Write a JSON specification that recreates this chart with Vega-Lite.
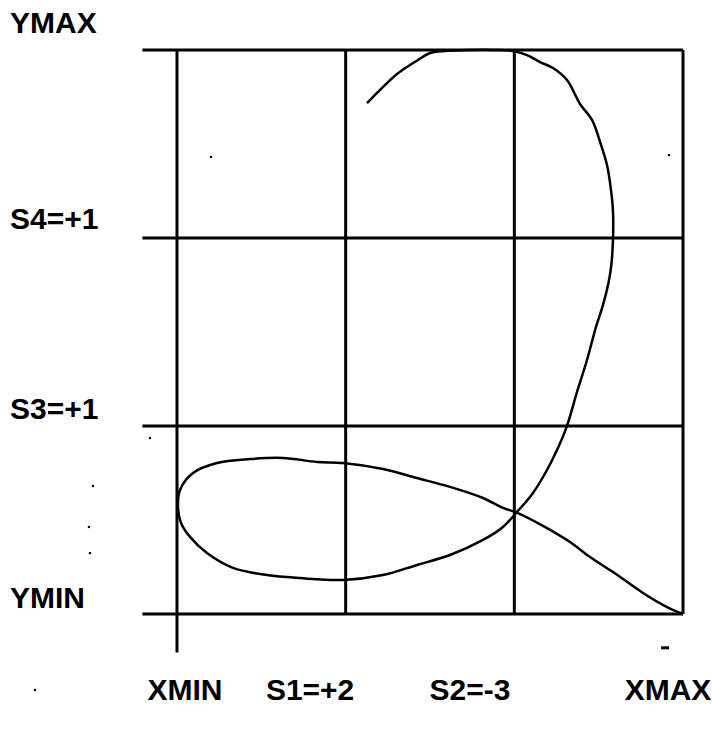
{
  "$schema": "https://vega.github.io/schema/vega-lite/v6.json",
  "width": 712,
  "height": 732,
  "autosize": {"type": "fit", "contains": "padding"},
  "padding": 0,
  "background": "white",
  "config": {"view": {"stroke": null}},
  "datasets": {
    "grid": [
      {"x": 0, "y": -0.205, "x2": 0, "y2": 3},
      {"x": 1, "y": 0, "x2": 1, "y2": 3},
      {"x": 2, "y": 0, "x2": 2, "y2": 3},
      {"x": 3, "y": 0, "x2": 3, "y2": 3},
      {"x": -0.205, "y": 0, "x2": 3, "y2": 0},
      {"x": -0.205, "y": 1, "x2": 3, "y2": 1},
      {"x": -0.205, "y": 2, "x2": 3, "y2": 2},
      {"x": -0.205, "y": 3, "x2": 3, "y2": 3},
      {"x": 2.870, "y": -0.180, "x2": 2.917, "y2": -0.180}
    ],
    "curve": [
      {"i": 1, "x": 1.1265, "y": 2.718},
      {"i": 2, "x": 1.1917, "y": 2.777},
      {"i": 3, "x": 1.2451, "y": 2.824},
      {"i": 4, "x": 1.3043, "y": 2.872},
      {"i": 5, "x": 1.3636, "y": 2.910},
      {"i": 6, "x": 1.4289, "y": 2.947},
      {"i": 7, "x": 1.5000, "y": 2.984},
      {"i": 8, "x": 1.5889, "y": 2.995},
      {"i": 9, "x": 1.7372, "y": 3.000},
      {"i": 10, "x": 1.8854, "y": 3.000},
      {"i": 11, "x": 1.9921, "y": 2.995},
      {"i": 12, "x": 2.0751, "y": 2.973},
      {"i": 13, "x": 2.1522, "y": 2.936},
      {"i": 14, "x": 2.2292, "y": 2.904},
      {"i": 15, "x": 2.3123, "y": 2.840},
      {"i": 16, "x": 2.3893, "y": 2.713},
      {"i": 17, "x": 2.4605, "y": 2.628},
      {"i": 18, "x": 2.5138, "y": 2.495},
      {"i": 19, "x": 2.5494, "y": 2.388},
      {"i": 20, "x": 2.5731, "y": 2.255},
      {"i": 21, "x": 2.5850, "y": 2.140},
      {"i": 22, "x": 2.5850, "y": 2.000},
      {"i": 23, "x": 2.5750, "y": 1.856},
      {"i": 24, "x": 2.5580, "y": 1.761},
      {"i": 25, "x": 2.5257, "y": 1.644},
      {"i": 26, "x": 2.4842, "y": 1.527},
      {"i": 27, "x": 2.4308, "y": 1.351},
      {"i": 28, "x": 2.3700, "y": 1.176},
      {"i": 29, "x": 2.3100, "y": 0.995},
      {"i": 30, "x": 2.2530, "y": 0.872},
      {"i": 31, "x": 2.1937, "y": 0.766},
      {"i": 32, "x": 2.1107, "y": 0.644},
      {"i": 33, "x": 2.0158, "y": 0.543},
      {"i": 34, "x": 1.9328, "y": 0.463},
      {"i": 35, "x": 1.8142, "y": 0.394},
      {"i": 36, "x": 1.6186, "y": 0.314},
      {"i": 37, "x": 1.4229, "y": 0.261},
      {"i": 38, "x": 1.2213, "y": 0.207},
      {"i": 39, "x": 0.9842, "y": 0.181},
      {"i": 40, "x": 0.7292, "y": 0.191},
      {"i": 41, "x": 0.5336, "y": 0.207},
      {"i": 42, "x": 0.3320, "y": 0.245},
      {"i": 43, "x": 0.1779, "y": 0.324},
      {"i": 44, "x": 0.0771, "y": 0.410},
      {"i": 45, "x": 0.0237, "y": 0.484},
      {"i": 46, "x": 0.0059, "y": 0.569},
      {"i": 47, "x": 0.0178, "y": 0.660},
      {"i": 48, "x": 0.0949, "y": 0.750},
      {"i": 49, "x": 0.2372, "y": 0.803},
      {"i": 50, "x": 0.4328, "y": 0.824},
      {"i": 51, "x": 0.6285, "y": 0.830},
      {"i": 52, "x": 0.8300, "y": 0.809},
      {"i": 53, "x": 0.9842, "y": 0.803},
      {"i": 54, "x": 1.2213, "y": 0.771},
      {"i": 55, "x": 1.4229, "y": 0.723},
      {"i": 56, "x": 1.6186, "y": 0.676},
      {"i": 57, "x": 1.8142, "y": 0.617},
      {"i": 58, "x": 1.9328, "y": 0.564},
      {"i": 59, "x": 2.0217, "y": 0.537},
      {"i": 60, "x": 2.1937, "y": 0.457},
      {"i": 61, "x": 2.3300, "y": 0.383},
      {"i": 62, "x": 2.4486, "y": 0.303},
      {"i": 63, "x": 2.5850, "y": 0.223},
      {"i": 64, "x": 2.7628, "y": 0.112},
      {"i": 65, "x": 2.9051, "y": 0.037},
      {"i": 66, "x": 3.0000, "y": 0.000}
    ],
    "leftLabels": [
      {"label": "YMAX", "x": -0.990, "y": 3.090},
      {"label": "S4=+1", "x": -0.990, "y": 2.048},
      {"label": "S3=+1", "x": -0.990, "y": 1.037},
      {"label": "YMIN", "x": -0.990, "y": 0.032}
    ],
    "bottomLabels": [
      {"label": "XMIN", "x": 0.047, "y": -0.457},
      {"label": "S1=+2", "x": 0.789, "y": -0.457},
      {"label": "S2=-3", "x": 1.737, "y": -0.457},
      {"label": "XMAX", "x": 2.911, "y": -0.457}
    ],
    "specks": [
      {"x": 0.2016, "y": 2.431},
      {"x": 2.917, "y": 2.441},
      {"x": -0.160, "y": 0.936},
      {"x": -0.498, "y": 0.681},
      {"x": -0.522, "y": 0.463},
      {"x": -0.516, "y": 0.324},
      {"x": -0.842, "y": -0.404}
    ]
  },
  "layer": [
    {
      "data": {"name": "grid"},
      "mark": {"type": "rule", "color": "black", "strokeWidth": 3},
      "encoding": {
        "x": {"field": "x", "type": "quantitative", "scale": {"domain": [-1.0494, 3.1719], "nice": false, "zero": false}, "axis": null},
        "y": {"field": "y", "type": "quantitative", "scale": {"domain": [-0.6277, 3.2660], "nice": false, "zero": false}, "axis": null},
        "x2": {"field": "x2"},
        "y2": {"field": "y2"}
      }
    },
    {
      "data": {"name": "curve"},
      "mark": {"type": "line", "color": "black", "strokeWidth": 2.5, "interpolate": "catmull-rom"},
      "encoding": {
        "x": {"field": "x", "type": "quantitative", "scale": {"domain": [-1.0494, 3.1719], "nice": false, "zero": false}, "axis": null},
        "y": {"field": "y", "type": "quantitative", "scale": {"domain": [-0.6277, 3.2660], "nice": false, "zero": false}, "axis": null},
        "order": {"field": "i", "type": "quantitative"}
      }
    },
    {
      "data": {"name": "specks"},
      "mark": {"type": "square", "color": "black", "size": 5, "opacity": 1},
      "encoding": {
        "x": {"field": "x", "type": "quantitative", "scale": {"domain": [-1.0494, 3.1719], "nice": false, "zero": false}, "axis": null},
        "y": {"field": "y", "type": "quantitative", "scale": {"domain": [-0.6277, 3.2660], "nice": false, "zero": false}, "axis": null}
      }
    },
    {
      "data": {"name": "leftLabels"},
      "mark": {"type": "text", "align": "left", "baseline": "alphabetic", "font": "Liberation Sans Narrow, Liberation Sans", "fontWeight": "bold", "fontSize": 30, "color": "black"},
      "encoding": {
        "x": {"field": "x", "type": "quantitative", "scale": {"domain": [-1.0494, 3.1719], "nice": false, "zero": false}, "axis": null},
        "y": {"field": "y", "type": "quantitative", "scale": {"domain": [-0.6277, 3.2660], "nice": false, "zero": false}, "axis": null},
        "text": {"field": "label", "type": "nominal"}
      }
    },
    {
      "data": {"name": "bottomLabels"},
      "mark": {"type": "text", "align": "center", "baseline": "alphabetic", "font": "Liberation Sans Narrow, Liberation Sans", "fontWeight": "bold", "fontSize": 30, "color": "black"},
      "encoding": {
        "x": {"field": "x", "type": "quantitative", "scale": {"domain": [-1.0494, 3.1719], "nice": false, "zero": false}, "axis": null},
        "y": {"field": "y", "type": "quantitative", "scale": {"domain": [-0.6277, 3.2660], "nice": false, "zero": false}, "axis": null},
        "text": {"field": "label", "type": "nominal"}
      }
    }
  ]
}
